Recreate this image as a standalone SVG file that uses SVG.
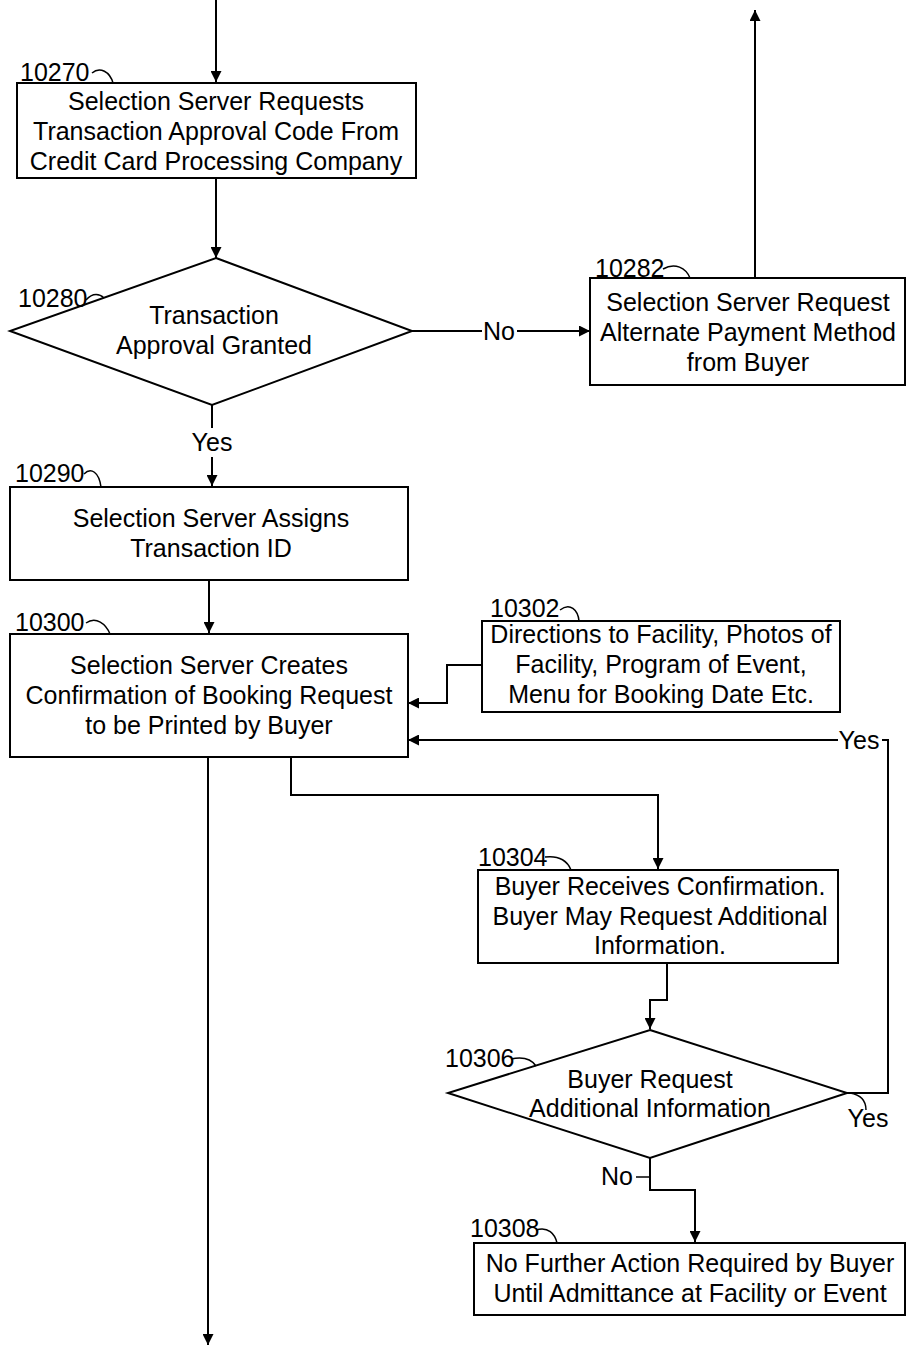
<svg xmlns="http://www.w3.org/2000/svg" width="910" height="1351" viewBox="0 0 910 1351">
<defs>
<style>
text{font-family:"Liberation Sans",Arial,sans-serif;font-size:25px;fill:#000}
.c{text-anchor:middle}
.box{fill:#fff;stroke:#000;stroke-width:2}
.ln{fill:none;stroke:#000;stroke-width:2}
.ld{fill:none;stroke:#000;stroke-width:1.5}
</style>
<marker id="ah" viewBox="0 0 10 10" refX="10" refY="5" markerWidth="11" markerHeight="11" markerUnits="userSpaceOnUse" orient="auto">
<path d="M0,0 L10,5 L0,10 Z" fill="#000"/>
</marker>
</defs>
<rect width="910" height="1351" fill="#fff"/>

<g id="connectors">
<line class="ln" x1="216" y1="0" x2="216" y2="82" marker-end="url(#ah)"/>
<line class="ln" x1="216" y1="178" x2="216" y2="258" marker-end="url(#ah)"/>
<line class="ln" x1="412" y1="331" x2="482" y2="331"/>
<text x="499" y="340" class="c">No</text>
<line class="ln" x1="517" y1="331" x2="590" y2="331" marker-end="url(#ah)"/>
<line class="ln" x1="755" y1="278" x2="755" y2="10" marker-end="url(#ah)"/>
<line class="ln" x1="212" y1="405" x2="212" y2="428"/>
<text x="212" y="451" class="c">Yes</text>
<line class="ln" x1="212" y1="457" x2="212" y2="486" marker-end="url(#ah)"/>
<line class="ln" x1="209" y1="580" x2="209" y2="633" marker-end="url(#ah)"/>
<polyline class="ln" points="482,665 447,665 447,703 408,703" marker-end="url(#ah)"/>
<polyline class="ln" points="847,1093 888,1093 888,740 882,740"/>
<text x="859" y="749" class="c">Yes</text>
<line class="ln" x1="838" y1="740" x2="408" y2="740" marker-end="url(#ah)"/>
<polyline class="ln" points="291,757 291,795 658,795 658,869" marker-end="url(#ah)"/>
<line class="ln" x1="208" y1="757" x2="208" y2="1345" marker-end="url(#ah)"/>
<polyline class="ln" points="667,963 667,1000 650,1000 650,1029" marker-end="url(#ah)"/>
<path class="ld" d="M850,1093 C862,1095 866,1102 866,1110"/>
<text x="868" y="1127" class="c">Yes</text>
<polyline class="ln" points="650,1158 650,1190 695,1190 695,1242" marker-end="url(#ah)"/>
<line class="ld" x1="636" y1="1177" x2="650" y2="1177"/>
<text x="617" y="1185" class="c">No</text>
</g>

<g id="n10270">
<rect class="box" x="17" y="83" width="399" height="95"/>
<text x="216" y="110" class="c">Selection Server Requests</text>
<text x="216" y="140" class="c">Transaction Approval Code From</text>
<text x="216" y="170" class="c">Credit Card Processing Company</text>
<text x="20" y="81">10270</text>
<path class="ld" d="M92,73 C100,66 110,72 113,83"/>
</g>

<g id="n10280">
<polygon class="box" points="216,258 412,331 212,405 10,331"/>
<text x="214" y="324" class="c">Transaction</text>
<text x="214" y="354" class="c">Approval Granted</text>
<text x="18" y="307">10280</text>
<path class="ld" d="M86,300 C93,292 100,294 104,298"/>
</g>

<g id="n10282">
<rect class="box" x="590" y="278" width="315" height="107"/>
<text x="748" y="311" class="c">Selection Server Request</text>
<text x="748" y="341" class="c">Alternate Payment Method</text>
<text x="748" y="371" class="c">from Buyer</text>
<text x="595" y="277">10282</text>
<path class="ld" d="M663,269 C675,262 686,268 690,278"/>
</g>

<g id="n10290">
<rect class="box" x="10" y="487" width="398" height="93"/>
<text x="211" y="527" class="c">Selection Server Assigns</text>
<text x="211" y="557" class="c">Transaction ID</text>
<text x="15" y="482">10290</text>
<path class="ld" d="M84,474 C91,467 99,472 101,487"/>
</g>

<g id="n10300">
<rect class="box" x="10" y="634" width="398" height="123"/>
<text x="209" y="674" class="c">Selection Server Creates</text>
<text x="209" y="704" class="c">Confirmation of Booking Request</text>
<text x="209" y="734" class="c">to be Printed by Buyer</text>
<text x="15" y="631">10300</text>
<path class="ld" d="M86,623 C96,616 106,624 110,634"/>
</g>

<g id="n10302">
<rect class="box" x="482" y="621" width="358" height="91"/>
<text x="661" y="643" class="c">Directions to Facility, Photos of</text>
<text x="661" y="673" class="c">Facility, Program of Event,</text>
<text x="661" y="703" class="c">Menu for Booking Date Etc.</text>
<text x="490" y="617">10302</text>
<path class="ld" d="M560,610 C570,602 578,610 579,621"/>
</g>

<g id="n10304">
<rect class="box" x="478" y="870" width="360" height="93"/>
<text x="660" y="895" class="c">Buyer Receives Confirmation.</text>
<text x="660" y="925" class="c">Buyer May Request Additional</text>
<text x="660" y="954" class="c">Information.</text>
<text x="478" y="866">10304</text>
<path class="ld" d="M545,857 C560,855 568,862 571,870"/>
</g>

<g id="n10306">
<polygon class="box" points="650,1030 847,1093 650,1158 448,1093"/>
<text x="650" y="1088" class="c">Buyer Request</text>
<text x="650" y="1117" class="c">Additional Information</text>
<text x="445" y="1067">10306</text>
<path class="ld" d="M511,1059 C525,1056 532,1060 536,1066"/>
</g>

<g id="n10308">
<rect class="box" x="474" y="1243" width="431" height="72"/>
<text x="690" y="1272" class="c">No Further Action Required by Buyer</text>
<text x="690" y="1302" class="c">Until Admittance at Facility or Event</text>
<text x="470" y="1237">10308</text>
<path class="ld" d="M536,1230 C548,1226 555,1234 557,1243"/>
</g>
</svg>
